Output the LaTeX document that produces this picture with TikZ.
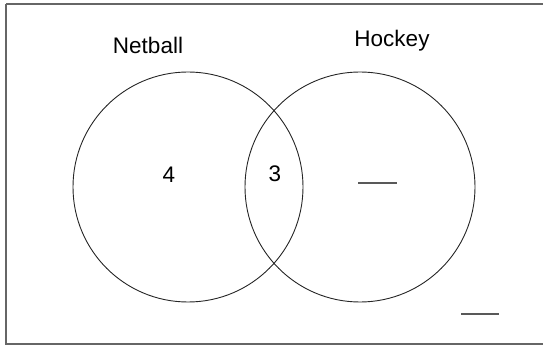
\documentclass[tikz,border=0pt]{standalone}
\usepackage{fontspec}
\setmainfont{Liberation Sans}
\begin{document}
\begin{tikzpicture}[x=1pt,y=-1pt,
  setcircle/.style={circle,draw=black!85,line width=0.9pt,minimum size=230pt,inner sep=0pt},
  lbl/.style={font=\fontsize{22.5}{25}\selectfont,inner sep=0pt},
  blank/.style={draw=black!65,line width=1.3pt}]
\useasboundingbox (0,0) rectangle (543,347);
\draw[black!60,line width=1.4pt] (6,4) -- (550,4);
\draw[black!60,line width=1.4pt] (6,4) -- (6,344) -- (550,344);
\node[setcircle] (net) at (188,187) {};
\node[setcircle] (hoc) at (360,187) {};
\node[lbl] (netl) at (148,45) {Netball};
\node[lbl] (hocl) at (392,41) {Hockey};
\node[lbl] (four) at (169,175) {4};
\node[lbl] (three) at (275,174) {3};
\coordinate (b1a) at (358,183);
\coordinate (b1b) at (397,183);
\coordinate (b2a) at (461,314);
\coordinate (b2b) at (499,314);
\draw[blank] (b1a) -- (b1b);
\draw[blank] (b2a) -- (b2b);
\end{tikzpicture}
\end{document}
